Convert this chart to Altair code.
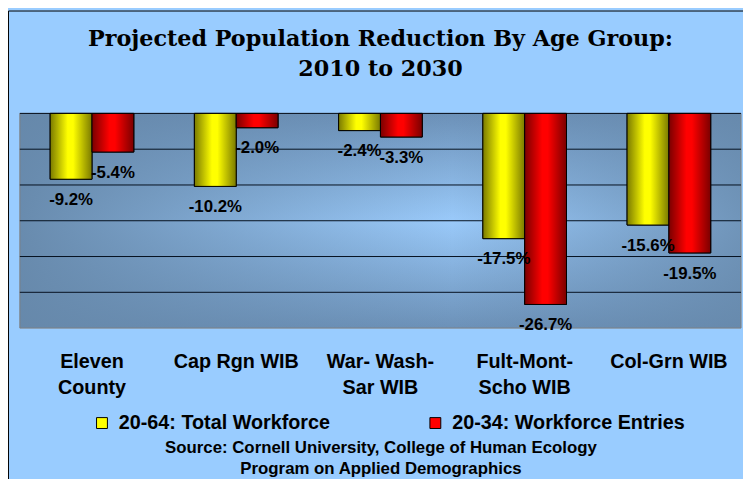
import altair as alt
import pandas as pd

categories = ["Eleven|County", "Cap Rgn WIB", "War- Wash-|Sar WIB", "Fult-Mont-|Scho WIB", "Col-Grn WIB"]
series = ["20-64: Total Workforce", "20-34: Workforce Entries"]
total_workforce = [-9.2, -10.2, -2.4, -17.5, -15.6]
workforce_entries = [-5.4, -2.0, -3.3, -26.7, -19.5]
gridline_values = [0, -5, -10, -15, -20, -25]
title_lines = ["Projected Population Reduction By Age Group:", "2010 to 2030"]
source_lines = ["Source: Cornell University, College of Human Ecology", "Program on Applied Demographics"]

rows = []
for c, a, b in zip(categories, total_workforce, workforce_entries):
    rows.append({"category": c, "series": series[0], "value": a})
    rows.append({"category": c, "series": series[1], "value": b})
df = pd.DataFrame(rows)

W, H = 729, 217
SANS = "Liberation Sans"

x_scale = alt.Scale(paddingInner=0.42, paddingOuter=0.21)
y_scale = alt.Scale(domain=[-30, 0], nice=False)
xoff = alt.XOffset("series:N", sort=series,
                   scale=alt.Scale(domain=series, paddingInner=0, paddingOuter=0))

one = alt.Data(values=[{}])

frame = alt.Chart(one).mark_rect(fillOpacity=0, stroke="black", strokeWidth=1).encode(
    x=alt.value(-11.5), x2=alt.value(760), y=alt.value(-103.5), y2=alt.value(420))

vert_grad = {"gradient": "linear", "x1": 0, "y1": 0, "x2": 0, "y2": 1,
             "stops": [{"offset": 0, "color": "#6C91B8"},
                       {"offset": 0.5, "color": "#9ACAFA"},
                       {"offset": 1, "color": "#6C91B8"}]}
horiz_grad = {"gradient": "linear", "x1": 0, "y1": 0, "x2": 1, "y2": 0,
              "stops": [{"offset": 0, "color": "rgba(102,136,170,0.95)"},
                        {"offset": 0.6, "color": "rgba(102,136,170,0)"},
                        {"offset": 1, "color": "rgba(102,136,170,0.8)"}]}

bg1 = alt.Chart(one).mark_rect(fill=vert_grad).encode(
    x=alt.value(0), x2=alt.value(W), y=alt.value(0), y2=alt.value(H))
bg2 = alt.Chart(one).mark_rect(fill=horiz_grad, stroke="#808080", strokeWidth=1).encode(
    x=alt.value(0), x2=alt.value(W), y=alt.value(0), y2=alt.value(H))

grid = alt.Chart(pd.DataFrame({"v": gridline_values})).mark_rule(
    color="#05101E", strokeWidth=1).encode(
    y=alt.Y("v:Q", scale=y_scale, axis=None))

solid = alt.Chart(df).mark_bar(stroke="black", strokeWidth=1).encode(
    x=alt.X("category:N", sort=categories, scale=x_scale,
            axis=alt.Axis(orient="bottom", domain=False, ticks=False, grid=False,
                          labelAngle=0, labelExpr="split(datum.label, '|')",
                          labelFont=SANS, labelFontSize=20, labelFontWeight="bold",
                          labelColor="black", labelLineHeight=26, labelPadding=24,
                          labelBaseline="top", labelLimit=300,
                          title=source_lines, titleFont=SANS, titleFontSize=17,
                          titleFontWeight="bold", titleColor="black",
                          titleLineHeight=21, titlePadding=43)),
    xOffset=xoff,
    y=alt.Y("value:Q", scale=y_scale, axis=None),
    color=alt.Color("series:N", sort=series,
                    scale=alt.Scale(domain=series, range=["#FFFF00", "#FF0000"]),
                    legend=alt.Legend(orient="none", legendX=73, legendY=303,
                                      direction="horizontal", title=None,
                                      symbolType="square", symbolSize=121,
                                      symbolStrokeColor="black", symbolStrokeWidth=1,
                                      symbolOpacity=1,
                                      labelFont=SANS, labelFontSize=20,
                                      labelFontWeight="bold", labelColor="black",
                                      labelOffset=7, columnPadding=96, padding=0,
                                      labelLimit=400)))


def grad_bars(name, dark, bright):
    g = {"gradient": "linear", "x1": 0, "y1": 0, "x2": 1, "y2": 0,
         "stops": [{"offset": 0, "color": dark},
                   {"offset": 0.42, "color": bright},
                   {"offset": 0.55, "color": bright},
                   {"offset": 1, "color": dark}]}
    return alt.Chart(df).transform_filter(alt.datum.series == name).mark_bar(
        fill=g, stroke="black", strokeWidth=1).encode(
        x=alt.X("category:N", sort=categories, scale=x_scale, axis=None),
        xOffset=xoff,
        y=alt.Y("value:Q", scale=y_scale, axis=None))


bars_yellow = grad_bars(series[0], "#7A7A00", "#FFFF00")
bars_red = grad_bars(series[1], "#7A0000", "#FF0000")

labels = alt.Chart(df).transform_calculate(
    label="(datum.value < 0 ? '-' : '') + format(abs(datum.value), '.1f') + '%'").mark_text(
    font=SANS, fontSize=17, fontWeight="bold", color="black",
    baseline="middle", dy=21).encode(
    x=alt.X("category:N", sort=categories, scale=x_scale,
            axis=alt.Axis(orient="top", labels=False, domain=False, ticks=True,
                          tickBand="extent", tickSize=6, tickColor="black",
                          offset=-6, grid=False, title=None)),
    xOffset=xoff,
    y=alt.Y("value:Q", scale=y_scale, axis=None),
    text="label:N")

chart = alt.layer(frame, bg1, bg2, grid, solid, bars_yellow, bars_red, labels).resolve_axis(
    x="independent").properties(
    width=W, height=H,
    title=alt.TitleParams(text=title_lines, font="DejaVu Serif", fontSize=22.5,
                          fontWeight="bold", color="black", anchor="middle",
                          frame="group", lineHeight=31, offset=-71),
    padding={"left": 12, "top": 104, "right": 2, "bottom": 150},
    autosize=alt.AutoSizeParams(type="none"),
    background="#99CCFF",
).configure_view(stroke="transparent")

chart.save("out.html", embed_options={"renderer": "svg", "actions": False})
